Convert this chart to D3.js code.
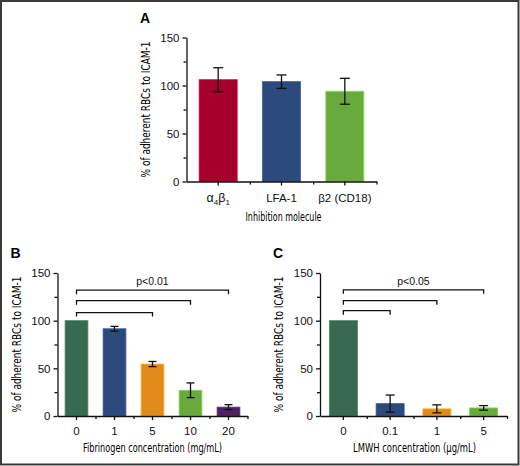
<!DOCTYPE html>
<html lang="en">
<head>
<meta charset="utf-8">
<title>RBC adhesion to ICAM-1</title>
<script src="https://cdnjs.cloudflare.com/ajax/libs/d3/7.8.5/d3.min.js"></script>
<style>
  body { margin: 0; background: #fff; }
  svg { display: block; }
  .axis path, .axis line { stroke: #111; stroke-width: 1.3px; }
  .axis text { font-family: "Liberation Sans", Arial, sans-serif; font-size: 11.5px; fill: #111; }
  .label { font-family: "Liberation Sans Narrow", "DejaVu Sans Condensed", sans-serif; font-size: 12.5px; fill: #000; }
  .ptext { font-family: "Liberation Sans", Arial, sans-serif; font-size: 10.5px; fill: #111; }
  .title { font-family: "Liberation Sans", Arial, sans-serif; font-weight: bold; font-size: 14px; fill: #000; }
</style>
</head>
<body>
<script>
// ---- data ----
// panel A: blocking antibodies
var catsA = ["α4β1", "LFA-1", "β2 (CD18)"];
var meanA = [106, 104, 94];
var errA  = [12.5, 7, 13.5];

// panel B: fibrinogen
var catsB = ["0", "1", "5", "10", "20"];
var meanB = [100, 91.5, 54.5, 27, 9.3];
var errB  = [0, 2.5, 2.7, 7.7, 2.6];
var sigEndsB = ["5", "10", "20"];
var sigLevelsB = [108.5, 121, 132];

// panel C: LMWH
var catsC = ["0", "0.1", "1", "5"];
var meanC = [100, 13, 7.5, 8.5];
var errC  = [0, 9, 4.2, 2.4];
var sigEndsC = ["0.1", "1", "5"];
var sigLevelsC = [110.5, 121, 132.3];

var yTicks = [0, 50, 100, 150];
var yMinor = [25, 75, 125];

var colorsA = ["#a5002c", "#2d4a7c", "#69aa3c"];
var colorsB = ["#386a4f", "#2d4a7c", "#e08b1c", "#69aa3c", "#4c2264"];
var colorsC = ["#386a4f", "#2d4a7c", "#e08b1c", "#69aa3c"];

var W = 520, H = 466;

var svg = d3.select("body").append("svg")
    .attr("width", W)
    .attr("height", H);

// outer frame
svg.append("rect")
    .attr("x", 1).attr("y", 1)
    .attr("width", 517.5).attr("height", 463.5)
    .attr("fill", "none")
    .attr("stroke", "#3a3a3a")
    .attr("stroke-width", 2);

function drawPanel(p) {
    var g = svg.append("g");

    var x = d3.scaleBand()
        .domain(p.cats)
        .range([p.left, p.left + p.w])
        .paddingInner(0.4)
        .paddingOuter(0.2);

    var y = d3.scaleLinear()
        .domain([0, 150])
        .range([p.top + p.h, p.top]);

    var data = p.cats.map(function(c, i) {
        return {cat: c, mean: p.mean[i], err: p.err[i], color: p.colors[i]};
    });

    // bars
    g.selectAll("rect.bar")
        .data(data)
        .enter().append("rect")
        .attr("class", "bar")
        .attr("x", function(d) { return x(d.cat); })
        .attr("y", function(d) { return y(d.mean); })
        .attr("width", x.bandwidth())
        .attr("height", function(d) { return y(0) - y(d.mean); })
        .attr("fill", function(d) { return d.color; })
        .attr("stroke", function(d) { return d3.color(d.color).brighter(0.7); })
        .attr("stroke-width", 0.8);

    // error bars
    var eb = g.selectAll("g.err")
        .data(data.filter(function(d) { return d.err > 0; }))
        .enter().append("g")
        .attr("class", "err")
        .attr("stroke", "#111")
        .attr("stroke-width", 1.3);
    eb.append("line")
        .attr("x1", function(d) { return x(d.cat) + x.bandwidth() / 2; })
        .attr("x2", function(d) { return x(d.cat) + x.bandwidth() / 2; })
        .attr("y1", function(d) { return y(d.mean + d.err); })
        .attr("y2", function(d) { return y(d.mean - d.err); });
    [1, -1].forEach(function(s) {
        eb.append("line")
            .attr("x1", function(d) { return x(d.cat) + x.bandwidth() / 2 - p.cap / 2; })
            .attr("x2", function(d) { return x(d.cat) + x.bandwidth() / 2 + p.cap / 2; })
            .attr("y1", function(d) { return y(d.mean + s * d.err); })
            .attr("y2", function(d) { return y(d.mean + s * d.err); });
    });

    // y axis
    g.append("g")
        .attr("class", "axis")
        .attr("transform", "translate(" + p.left + ",0)")
        .call(d3.axisLeft(y).tickValues(yTicks).tickSize(4).tickSizeOuter(0).tickPadding(3));
    g.append("g")
        .attr("class", "axis")
        .attr("transform", "translate(" + p.left + ",0)")
        .call(d3.axisLeft(y).tickValues(yMinor).tickSize(3).tickFormat(""))
        .select(".domain").remove();

    // x axis
    var xa = g.append("g")
        .attr("class", "axis")
        .attr("transform", "translate(0," + y(0) + ")")
        .call(d3.axisBottom(x).tickSize(4).tickSizeOuter(0).tickPadding(p.xpad));
    var xEdge = d3.scaleLinear().domain([0, p.cats.length]).range(x.range());
    g.append("g")
        .attr("class", "axis")
        .attr("transform", "translate(0," + y(0) + ")")
        .call(d3.axisBottom(xEdge).tickValues(d3.range(1, p.cats.length + 1)).tickSize(3).tickFormat(""))
        .select(".domain").remove();

    if (p.fixTick) p.fixTick(xa);

    // axis titles
    g.append("text")
        .attr("class", "label")
        .attr("text-anchor", "middle")
        .attr("transform", "translate(" + p.yLabelX + "," + (p.top + p.h / 2) + ") rotate(-90)")
        .attr("textLength", 136)
        .attr("lengthAdjust", "spacingAndGlyphs")
        .text("% of adherent RBCs to ICAM-1");
    g.append("text")
        .attr("class", "label")
        .attr("text-anchor", "middle")
        .attr("x", p.left + p.w / 2 + p.xLabelDx)
        .attr("y", p.xLabelY)
        .attr("textLength", p.xLabelLen)
        .attr("lengthAdjust", "spacingAndGlyphs")
        .text(p.xLabel);

    // significance brackets
    if (p.sigEnds) {
        var x0 = x(p.cats[0]) + x.bandwidth() / 2;
        p.sigEnds.forEach(function(c, i) {
            var x1 = x(c) + x.bandwidth() / 2;
            var yy = y(p.sigLevels[i]);
            g.append("path")
                .attr("d", "M" + x0 + "," + (yy + 4) + "V" + yy + "H" + x1 + "V" + (yy + 4))
                .attr("fill", "none")
                .attr("stroke", "#111")
                .attr("stroke-width", 1.3);
        });
        var last = p.sigEnds[p.sigEnds.length - 1];
        g.append("text")
            .attr("class", "ptext")
            .attr("text-anchor", "middle")
            .attr("x", (x0 + x(last) + x.bandwidth() / 2) / 2)
            .attr("y", y(d3.max(p.sigLevels)) - 5)
            .text(p.pText);
    }

    // panel letter
    g.append("text")
        .attr("class", "title")
        .attr("x", p.titleX)
        .attr("y", p.titleY)
        .text(p.title);
}

drawPanel({
    title: "A", titleX: 140, titleY: 23,
    cats: catsA, mean: meanA, err: errA, colors: colorsA,
    left: 186.5, top: 37.5, w: 190, h: 144, cap: 10, xpad: 8,
    yLabelX: 150, xLabel: "Inhibition molecule", xLabelY: 221, xLabelDx: 2, xLabelLen: 76,
    fixTick: function(xa) {
        // alpha4 beta1 with subscripts
        var t = xa.selectAll(".tick text").filter(function(d) { return d === "α4β1"; });
        t.text(null);
        t.append("tspan").attr("font-size", "12.5px").text("α");
        t.append("tspan").attr("font-size", "8px").attr("dy", "3").text("4");
        t.append("tspan").attr("font-size", "12.5px").attr("dy", "-3").text("β");
        t.append("tspan").attr("font-size", "8px").attr("dy", "3").text("1");
    }
});

drawPanel({
    title: "B", titleX: 10.5, titleY: 258,
    cats: catsB, mean: meanB, err: errB, colors: colorsB,
    left: 57.5, top: 273, w: 190, h: 143, cap: 8, xpad: 7,
    yLabelX: 20.5, xLabel: "Fibrinogen concentration (mg/mL)", xLabelY: 452, xLabelDx: 0, xLabelLen: 139,
    sigEnds: sigEndsB, sigLevels: sigLevelsB, pText: "p<0.01"
});

drawPanel({
    title: "C", titleX: 273, titleY: 258,
    cats: catsC, mean: meanC, err: errC, colors: colorsC,
    left: 320, top: 273, w: 187, h: 143, cap: 9, xpad: 7,
    yLabelX: 283, xLabel: "LMWH concentration (μg/mL)", xLabelY: 452, xLabelDx: 1, xLabelLen: 123,
    sigEnds: sigEndsC, sigLevels: sigLevelsC, pText: "p<0.05"
});
</script>
</body>
</html>
